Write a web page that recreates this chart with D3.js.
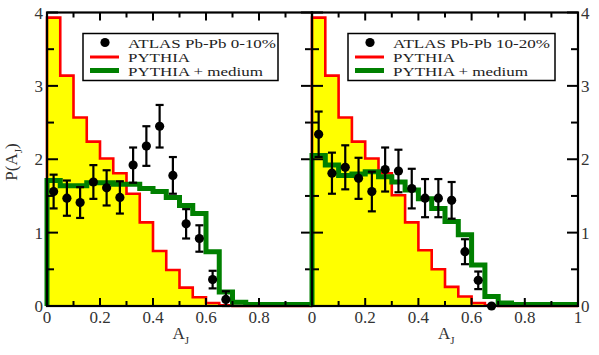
<!DOCTYPE html>
<html><head><meta charset="utf-8">
<script src="https://cdn.jsdelivr.net/npm/d3@7"></script>
<style>body{margin:0;background:#fff}svg{display:block}</style>
</head><body>
<script>
// ---- data ----
const binStart = [0,0.05,0.1,0.15,0.2,0.25,0.3,0.35,0.4,0.45,0.5,0.55,0.6,0.65,0.7,0.75,0.8,0.85,0.9,0.95];
const pythiaLeft  = [3.93,3.14,2.57,2.24,2.01,1.81,1.53,1.14,0.75,0.49,0.25,0.12,0.04,0.01,0,0,0,0,0,0];
const mediumLeft  = [1.71,1.64,1.64,1.68,1.68,1.66,1.66,1.60,1.56,1.48,1.37,1.26,0.74,0.19,0.05,0.02,0.02,0.02,0.02,0.02];
const pythiaRight = [3.93,3.14,2.57,2.24,2.01,1.81,1.51,1.14,0.76,0.50,0.26,0.13,0.04,0.01,0,0,0,0,0,0];
const mediumRight = [2.05,1.92,1.78,1.80,1.83,1.76,1.69,1.58,1.46,1.33,1.15,0.97,0.56,0.13,0.04,0.02,0.02,0.02,0.02,0.02];
const dataX      = [0.025,0.075,0.125,0.175,0.225,0.275,0.325,0.375,0.425,0.475,0.525,0.575,0.625,0.675];
const atlasLeft  = [1.56,1.47,1.41,1.69,1.61,1.48,1.92,2.18,2.45,1.78,1.12,0.92,0.36,0.09];
const errLeft    = [0.23,0.24,0.21,0.23,0.24,0.22,0.24,0.27,0.29,0.25,0.20,0.18,0.12,0.11];
const atlasRight = [2.34,1.81,1.89,1.74,1.56,1.86,1.84,1.60,1.47,1.47,1.44,0.74,0.35,0.0];
const errRight   = [0.31,0.28,0.30,0.28,0.27,0.30,0.29,0.27,0.26,0.26,0.25,0.17,0.12,0];
const xTicksLeft  = [0,0.2,0.4,0.6,0.8];
const xTicksRight = [0,0.2,0.4,0.6,0.8,1];
const yTicks = [0,1,2,3,4];
const legendLeft  = ["ATLAS Pb-Pb 0-10%","PYTHIA","PYTHIA + medium"];
const legendRight = ["ATLAS Pb-Pb 10-20%","PYTHIA","PYTHIA + medium"];

const FONT="Liberation Serif, Times New Roman, DejaVu Serif, serif";
const W=599,H=355;
const svg=d3.select("body").append("svg").attr("width",W).attr("height",H).attr("font-family",FONT);
const y=d3.scaleLinear().domain([0,4]).range([306,12.5]);
const fmt=d=>String(d);

function panel(x, pyth, med, pts, errs, legend, side){
  const g=svg.append("g");
  const pyPts=[[0,0]].concat(binStart.map((b,i)=>[b,pyth[i]])).concat([[1,pyth[pyth.length-1]]]);
  const mdPts=[[0,0]].concat(binStart.map((b,i)=>[b,med[i]])).concat([[1,med[med.length-1]]]);
  const area=d3.area().x(d=>x(d[0])).y0(y(0)).y1(d=>y(d[1])).curve(d3.curveStepAfter);
  const line=d3.line().x(d=>x(d[0])).y(d=>y(d[1])).curve(d3.curveStepAfter);
  g.append("path").attr("d",area(pyPts)).attr("fill","#ffff00");
  g.append("path").attr("d",line(pyPts)).attr("fill","none").attr("stroke","#ff0000").attr("stroke-width",2.6);
  g.append("path").attr("d",line(mdPts)).attr("fill","none").attr("stroke","#008000").attr("stroke-width",5);
  // error bars
  const eb=g.append("g").attr("stroke","#000").attr("stroke-width",2.2);
  dataX.forEach((xv,i)=>{
    if(errs[i]>0){
      const cx=x(xv),t=y(pts[i]+errs[i]),b=y(Math.max(0,pts[i]-errs[i]));
      eb.append("line").attr("x1",cx).attr("x2",cx).attr("y1",t).attr("y2",b);
      eb.append("line").attr("x1",cx-4).attr("x2",cx+4).attr("y1",t).attr("y2",t);
      eb.append("line").attr("x1",cx-4).attr("x2",cx+4).attr("y1",b).attr("y2",b);
    }
  });
  g.selectAll("circle.pt").data(dataX).join("circle").attr("class","pt")
    .attr("cx",d=>x(d)).attr("cy",(d,i)=>y(pts[i])).attr("r",4.6).attr("fill","#000");
  // frame
  const x0=x(0),x1=x(1);
  g.append("rect").attr("x",x0).attr("y",y(4)).attr("width",x1-x0).attr("height",y(0)-y(4))
    .attr("fill","none").attr("stroke","#000").attr("stroke-width",2.2);
  const xt=d3.range(0,11).map(i=>i/10);
  xt.forEach(v=>{
    const len=(Math.round(v*10)%2===0)?8:5;
    g.append("line").attr("x1",x(v)).attr("x2",x(v)).attr("y1",y(0)).attr("y2",y(0)-len).attr("stroke","#000").attr("stroke-width",2);
    g.append("line").attr("x1",x(v)).attr("x2",x(v)).attr("y1",y(4)).attr("y2",y(4)+len).attr("stroke","#000").attr("stroke-width",2);
  });
  const yt=d3.range(0,9).map(i=>i/2);
  yt.forEach(v=>{
    const len=(v%1===0)?11:7;
    g.append("line").attr("x1",x0).attr("x2",x0+len).attr("y1",y(v)).attr("y2",y(v)).attr("stroke","#000").attr("stroke-width",2);
    g.append("line").attr("x1",x1).attr("x2",x1-len).attr("y1",y(v)).attr("y2",y(v)).attr("stroke","#000").attr("stroke-width",2);
  });
  const xl=side==="left"?xTicksLeft:xTicksRight;
  g.selectAll("text.xl").data(xl).join("text").attr("class","xl")
    .attr("x",d=>x(d)).attr("y",323).attr("text-anchor","middle")
    .attr("font-size",17).attr("fill","#333").text(fmt);
  g.selectAll("text.yl").data(yTicks).join("text").attr("class","yl")
    .attr("x",side==="left"?x0-4:x1+3).attr("y",d=>y(d)+6).attr("text-anchor",side==="left"?"end":"start")
    .attr("font-size",17).attr("fill","#333").text(d=>d);
  const xm=x(0.5);
  const tt=g.append("text").attr("x",xm-7).attr("y",339).attr("font-size",17).attr("fill","#333");
  tt.append("tspan").text("A");
  tt.append("tspan").attr("dy",5).attr("font-size",11).text("J");
  // legend
  const lx=side==="left"?83:348, lw=side==="left"?195:207;
  const widths=side==="left"?[148,62,135]:[157,62,135];
  const lg=g.append("g");
  lg.append("rect").attr("x",lx).attr("y",33.5).attr("width",lw).attr("height",47)
    .attr("fill","#fff").attr("stroke","#000").attr("stroke-width",1.5);
  lg.append("circle").attr("cx",lx+22).attr("cy",42.5).attr("r",4.6).attr("fill","#000");
  lg.append("line").attr("x1",lx+7).attr("x2",lx+36).attr("y1",57).attr("y2",57).attr("stroke","#ff0000").attr("stroke-width",3);
  lg.append("line").attr("x1",lx+7).attr("x2",lx+36).attr("y1",70.5).attr("y2",70.5).attr("stroke","#008000").attr("stroke-width",5);
  lg.selectAll("text").data(legend).join("text")
    .attr("x",lx+45).attr("y",(d,i)=>47.5+i*14).attr("font-size",13.5).attr("fill","#222")
    .attr("textLength",(d,i)=>widths[i]).attr("lengthAdjust","spacingAndGlyphs").text(d=>d);
}

panel(d3.scaleLinear().domain([0,1]).range([47,312]), pythiaLeft, mediumLeft, atlasLeft, errLeft, legendLeft, "left");
panel(d3.scaleLinear().domain([0,1]).range([312,578]), pythiaRight, mediumRight, atlasRight, errRight, legendRight, "right");

const yl=svg.append("text").attr("transform","translate(17,162) rotate(-90)")
  .attr("text-anchor","middle").attr("font-size",17).attr("fill","#333");
yl.append("tspan").text("P(A");
yl.append("tspan").attr("dy",5).attr("font-size",11).text("J");
yl.append("tspan").attr("dy",-5).text(")");
</script>
</body></html>
